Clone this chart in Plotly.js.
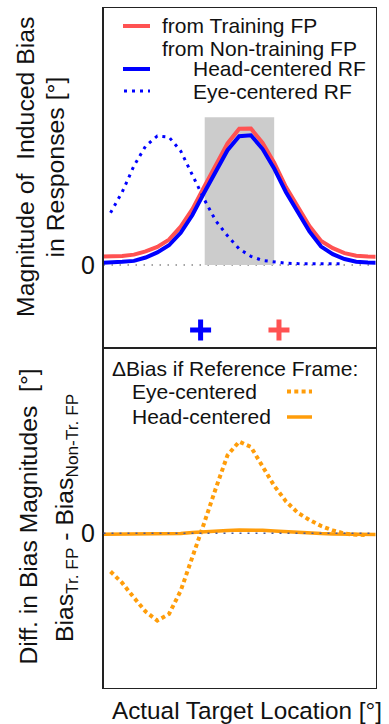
<!DOCTYPE html>
<html>
<head>
<meta charset="utf-8">
<script src="https://cdn.plot.ly/plotly-3.0.1.min.js"></script>
<style>html,body{margin:0;padding:0;background:#fff;}#chart{width:389px;height:724px;}</style>
</head>
<body>
<div id="chart"></div>
<script>
// ---- data ----
const xFull = [-12,-11,-10,-9,-8,-7,-6,-5,-4,-3,-2,-1,0,1,2,3,4,5,6,7,8,9,10,11,12];
const headRF = [0.17,0.19,0.25,0.32,0.58,0.97,1.52,2.48,3.85,5.56,7.27,8.83,9.91,9.98,8.92,7.40,5.60,4.03,2.59,1.42,0.84,0.46,0.25,0.20,0.18];
const trainFP = [0.64,0.65,0.70,0.80,1.05,1.40,1.95,2.95,4.30,6.00,7.75,9.35,10.48,10.50,9.40,7.85,6.00,4.45,3.00,1.85,1.30,0.92,0.72,0.66,0.64];
const xEye = [-11,-10,-9,-8,-7,-6,-5,-4,-3,-2,-1,0,1,2,3,4,5,6,7,8,9];
const eyeRF = [4.02,5.62,7.62,9.15,9.93,9.84,8.77,6.88,5.07,3.40,2.25,1.24,0.67,0.35,0.22,0.14,0.11,0.10,0.10,0.10,0.10];
const xEyeDiff = [-11,-10,-9,-8,-7,-6,-5,-4,-3,-2,-1,0,1,2,3,4,5,6,7,8,9,10,11];
const eyeDiff = [-2.94,-3.82,-4.95,-6.03,-6.72,-6.21,-4.42,-1.93,0.77,3.46,6.00,7.05,6.64,5.14,3.64,2.45,1.58,1.03,0.56,0.22,-0.02,-0.12,-0.13];
const headDiff = [-0.08,-0.08,-0.08,-0.08,-0.07,-0.06,-0.05,-0.02,0.06,0.13,0.18,0.22,0.25,0.25,0.23,0.18,0.12,0.06,0.02,-0.02,-0.05,-0.07,-0.08,-0.09,-0.09];
const fpX = [-3.3, 3.4];
const fpY = [-5, -5];
const shadeX = [-2.95, 2.99];
const shadeTop = 11.36;

// ---- styles ----
const W = 389, H = 724;
const FONT = 'Liberation Sans, Arial, Helvetica, sans-serif';
const RED = '#ff5252', BLUE = '#0000ff', ORANGE = '#ff9d0a', GRAY = '#cccccc';
const X = px => px / W;
const Y = py => 1 - py / H;

const traces = [
  {x: xFull, y: trainFP, xaxis:'x', yaxis:'y', mode:'lines', line:{color:RED, width:4}},
  {x: xFull, y: headRF, xaxis:'x', yaxis:'y', mode:'lines', line:{color:BLUE, width:4}},
  {x: xEye, y: eyeRF, xaxis:'x', yaxis:'y', mode:'lines', line:{color:BLUE, width:3, dash:'3px,5px'}},
  {x: fpX, y: fpY, xaxis:'x', yaxis:'y', mode:'markers',
   marker:{symbol:'cross-thin', size:15, color:[BLUE, RED], line:{width:5, color:[BLUE, RED]}}},
  {x: xFull, y: headDiff, xaxis:'x2', yaxis:'y2', mode:'lines', line:{color:ORANGE, width:3.5}},
  {x: xEyeDiff, y: eyeDiff, xaxis:'x2', yaxis:'y2', mode:'lines', line:{color:ORANGE, width:4, dash:'4px,3.3px'}}
];

const axBase = {showgrid:false, zeroline:false, showline:true, mirror:true, linecolor:'#222', linewidth:1.5, ticks:'', fixedrange:true};
const xRange = [-11.6, 11.65];

const shapes = [
  {type:'rect', xref:'x', yref:'y', x0:shadeX[0], x1:shadeX[1], y0:0, y1:shadeTop, fillcolor:GRAY, line:{width:0}, layer:'below'},
  {type:'line', xref:'paper', yref:'y', x0:X(103.5), x1:X(375.5), y0:0, y1:0, line:{color:'#888', width:1.5, dash:'1.5px,6.5px'}, layer:'below'},
  {type:'line', xref:'paper', yref:'y2', x0:X(103.5), x1:X(375.5), y0:0, y1:0, line:{color:'#4a5a9a', width:1.5, dash:'2px,6px'}, layer:'above'},
  // legend samples
  {type:'line', xref:'paper', yref:'paper', x0:X(123), x1:X(150), y0:Y(26), y1:Y(26), line:{color:RED, width:4}},
  {type:'line', xref:'paper', yref:'paper', x0:X(123), x1:X(150), y0:Y(69), y1:Y(69), line:{color:BLUE, width:4}},
  {type:'line', xref:'paper', yref:'paper', x0:X(124), x1:X(150), y0:Y(91), y1:Y(91), line:{color:BLUE, width:3, dash:'3px,5px'}},
  {type:'line', xref:'paper', yref:'paper', x0:X(287), x1:X(312), y0:Y(391.5), y1:Y(391.5), line:{color:ORANGE, width:4, dash:'4px,3.3px'}},
  {type:'line', xref:'paper', yref:'paper', x0:X(287), x1:X(312), y0:Y(417), y1:Y(417), line:{color:ORANGE, width:3.5}}
];

function txt(text, px, py, size, xanchor, angle) {
  return {text:text, xref:'paper', yref:'paper', x:X(px), y:Y(py), xanchor:xanchor||'left', yanchor:'middle',
          showarrow:false, textangle:angle||0, font:{family:FONT, size:size, color:'#111'}};
}

const annotations = [
  txt('from Training FP', 160, 26, 21),
  txt('from Non-training FP', 160, 48, 21),
  txt('Head-centered RF', 190.5, 69, 21),
  txt('Eye-centered RF', 190.5, 91, 21),
  txt('\u0394Bias if Reference Frame:', 110, 368, 21),
  txt('Eye-centered', 129.5, 391.5, 21),
  txt('Head-centered', 129.5, 417, 21),
  txt('Magnitude of\u00a0 Induced Bias', 25, 167, 24.8, 'center', -90),
  txt('in Responses [°]', 55, 167.5, 24.8, 'center', -90),
  txt('Diff. in Bias Magnitudes\u00a0 [°]', 28, 516.5, 24.7, 'center', -90),
  txt('Bias<sub>Tr. FP</sub> - Bias<sub>Non-Tr. FP</sub>', 66, 518, 24.7, 'center', -90),
  txt('Actual Target Location [°]', 246.5, 710, 24.3, 'center', 0)
];

const layout = {
  width: W, height: H, margin:{l:0, r:0, t:0, b:0}, paper_bgcolor:'#fff', plot_bgcolor:'rgba(0,0,0,0)',
  showlegend:false,
  xaxis: Object.assign({}, axBase, {domain:[X(103.5), X(375.5)], range:xRange, showticklabels:false, anchor:'y'}),
  yaxis: Object.assign({}, axBase, {domain:[Y(346.7), Y(8)], range:[-6.28, 19.77], tickvals:[0], ticktext:['0'],
          tickfont:{family:FONT, size:25, color:'#111'}, ticklabelstandoff:2, anchor:'x'}),
  xaxis2: Object.assign({}, axBase, {domain:[X(103.5), X(375.5)], range:xRange, showticklabels:false, anchor:'y2'}),
  yaxis2: Object.assign({}, axBase, {domain:[Y(687.7), Y(349.3)], range:[-11.88, 14.15], tickvals:[0], ticktext:['0'],
          tickfont:{family:FONT, size:25, color:'#111'}, ticklabelstandoff:2, anchor:'x2'}),
  shapes: shapes,
  annotations: annotations
};

Plotly.newPlot('chart', traces, layout, {staticPlot:true, displayModeBar:false});
</script>
</body>
</html>
